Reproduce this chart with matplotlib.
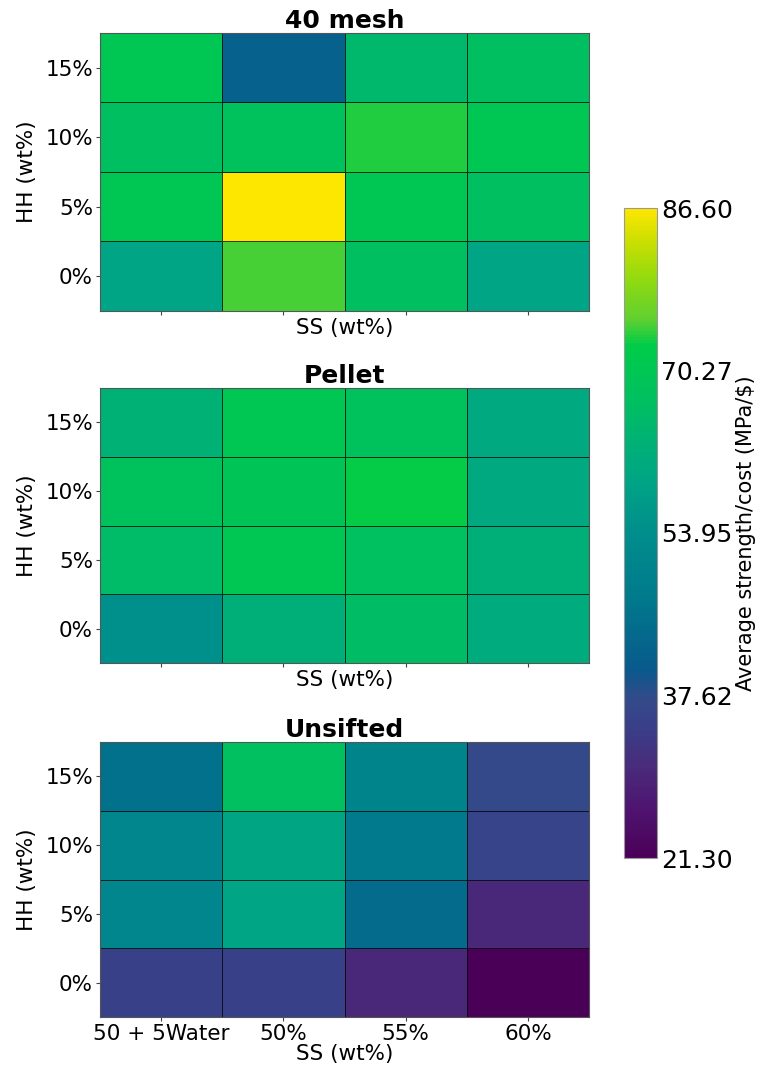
import matplotlib
matplotlib.use("Agg")
import matplotlib.pyplot as plt
import numpy as np
from matplotlib.colors import LinearSegmentedColormap, Normalize

# ---- data ----
ss_labels = ["50 + 5Water", "50%", "55%", "60%"]
hh_labels = ["0%", "5%", "10%", "15%"]          # bottom -> top
panel_titles = ["40 mesh", "Pellet", "Unsifted"]

# rows: 0%, 5%, 10%, 15% ; columns: 50+5Water, 50%, 55%, 60%
mesh40 = [
    [59.2, 74.8, 67.0, 59.2],
    [70.3, 86.6, 70.3, 67.0],
    [67.0, 68.0, 73.8, 70.3],
    [70.3, 42.2, 65.1, 67.0],
]
pellet = [
    [54.6, 62.4, 66.4, 61.1],
    [65.7, 70.3, 67.7, 62.4],
    [68.3, 69.6, 72.9, 60.5],
    [63.1, 70.3, 68.0, 60.5],
]
unsifted = [
    [35.0, 35.0, 29.8, 21.3],
    [51.3, 59.2, 44.2, 29.8],
    [51.3, 59.8, 47.4, 35.7],
    [45.5, 67.4, 50.7, 37.0],
]
vmin, vmax = 21.30, 86.60
cbar_label = "Average strength/cost (MPa/$)"

# colour map as it appears in the reference (saturated viridis look)
cmap_stops = [0.0, 0.074, 0.136, 0.197, 0.243, 0.29, 0.40, 0.505, 0.582,
              0.644, 0.706, 0.79, 0.83, 0.89, 0.955, 1.0]
cmap_cols = ["#4b0058", "#4e1470", "#4a2a7a", "#3a3e88", "#334a8a", "#085a8c",
             "#007a8c", "#008f8c", "#00a585", "#00b275", "#00c060", "#00cc48",
             "#60d030", "#90da10", "#cfe000", "#fde600"]
cmap = LinearSegmentedColormap.from_list("vir_sat", list(zip(cmap_stops, cmap_cols)))
norm = Normalize(vmin=vmin, vmax=vmax)

fig = plt.figure(figsize=(7.63, 10.70), dpi=100)
W, H = 763, 1070
def ax_rect(x0, y0, x1, y1):
    return [x0 / W, 1 - y1 / H, (x1 - x0) / W, (y1 - y0) / H]

rects = [ax_rect(100, 33, 589, 311), ax_rect(100, 388, 589, 663), ax_rect(100, 742, 589, 1017)]
datas = [mesh40, pellet, unsifted]

mesh = None
for i, (r, d, t) in enumerate(zip(rects, datas, panel_titles)):
    ax = fig.add_axes(r)
    arr = np.array(d)
    mesh = ax.pcolormesh(np.arange(len(ss_labels) + 1) - 0.5,
                         np.arange(len(hh_labels) + 1) - 0.5,
                         arr, cmap=cmap, norm=norm,
                         edgecolors=(0, 0, 0, 0.75), linewidth=0.5)
    ax.set_xlim(-0.5, len(ss_labels) - 0.5)
    ax.set_ylim(-0.5, len(hh_labels) - 0.5)
    ax.set_xticks(range(len(ss_labels)))
    ax.set_yticks(range(len(hh_labels)))
    ax.set_yticklabels(hh_labels, fontsize=15.5)
    if i == 2:
        ax.set_xticklabels(ss_labels, fontsize=15.5)
    else:
        ax.set_xticklabels([])
    ax.tick_params(axis="both", length=3, color="#444444", pad=2)
    ax.set_xlabel("SS (wt%)", fontsize=15.5, labelpad=0)
    ax.set_ylabel("HH (wt%)", fontsize=15.5, labelpad=6)
    ax.set_title(t, fontsize=18, fontweight="bold", pad=3)
    for s in ax.spines.values():
        s.set_color("#555555")
        s.set_linewidth(0.8)

cax = fig.add_axes(ax_rect(624, 208, 657, 858))
cb = fig.colorbar(mesh, cax=cax)
cb.set_ticks(np.linspace(vmin, vmax, 5))
cb.set_ticklabels([f"{v:.2f}" for v in np.linspace(vmin, vmax, 5)])
cb.ax.tick_params(labelsize=18, length=0, pad=3)
cb.outline.set_edgecolor("#999999")
cb.outline.set_linewidth(0.8)
cb.set_label(cbar_label, fontsize=15, labelpad=2)

fig.savefig("out.png", dpi=100)
